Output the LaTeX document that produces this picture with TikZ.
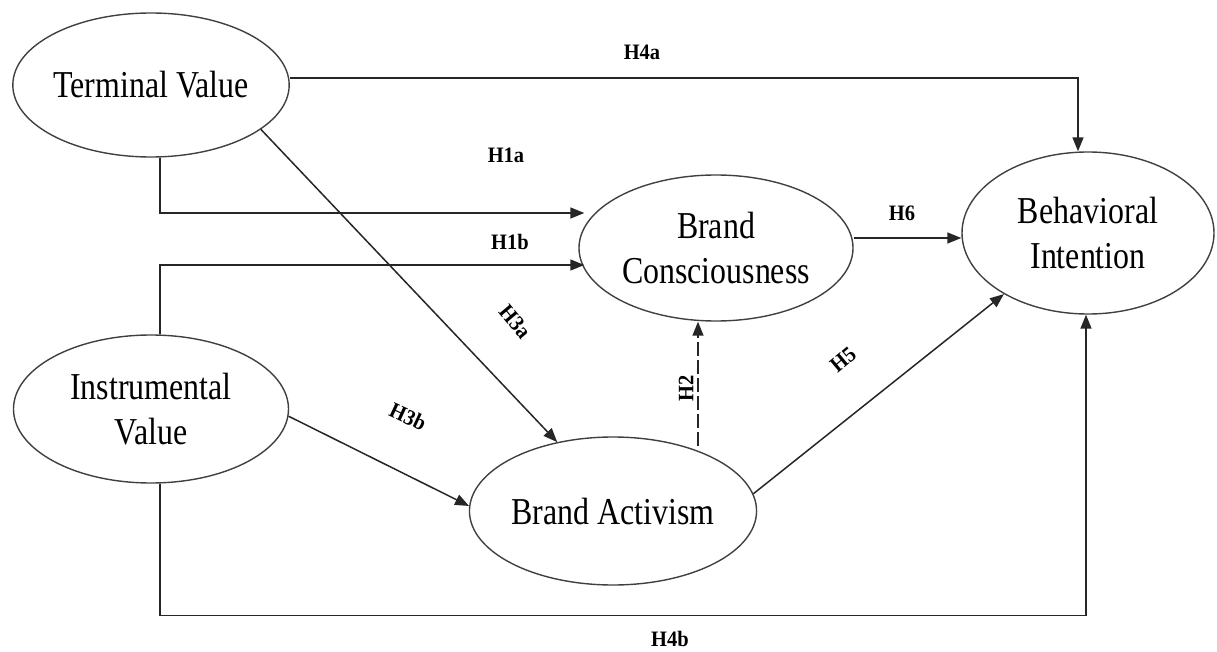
\documentclass[tikz,border=0pt]{standalone}
\usepackage{fontspec}
\setmainfont{Liberation Serif}
\newfontfamily\elfont[FakeStretch=0.84]{Liberation Serif}
\newfontfamily\lblfont[FakeStretch=0.93]{Liberation Serif}
\usetikzlibrary{shapes.geometric,arrows.meta}
\begin{document}
\begin{tikzpicture}[x=1pt,y=-1pt,
  construct/.style={ellipse,draw=black!75,line width=1.4pt,inner sep=0pt,align=center,
    font=\elfont\fontsize{38}{45}\selectfont},
  conn/.style={draw=black!85,line width=1.5pt,-{Triangle[length=14pt,width=11pt]}},
  hyp/.style={font=\lblfont\bfseries\fontsize{22}{24}\selectfont,inner sep=1pt}]
\useasboundingbox (0,0) rectangle (1217,652);

\node[construct,minimum width=275pt,minimum height=144pt] (TV) at (151,85) {Terminal Value};
\node[construct,minimum width=275pt,minimum height=148pt] (IV) at (151,409) {Instrumental\\Value};
\node[construct,minimum width=274pt,minimum height=146pt] (BC) at (716,248) {Brand\\Consciousness};
\node[construct,minimum width=252pt,minimum height=162pt] (BI) at (1088,233) {Behavioral\\Intention};
\node[construct,minimum width=274pt,minimum height=148pt] (BA) at (613,511) {Brand Activism};

% connectors
\draw[conn] ([yshift=7pt]TV.east) -| ([xshift=-10pt]BI.north);
\draw[conn] ([xshift=9pt]TV.south) |- ([xshift=6pt,yshift=35pt]BC.west);
\draw[conn] ([xshift=9pt]IV.north) |- ([xshift=6pt,yshift=-17pt]BC.west);
\draw[conn] (TV.-22) -- (BA.129);
\draw[conn] (IV.-3) -- (BA.178);
\draw[conn,dash pattern=on 14pt off 4pt] ([xshift=85pt,yshift=-10pt]BA.north) -- ([xshift=-18pt]BC.south);
\draw[conn] (BA.7) -- (BI.-144);
\draw[conn] ([yshift=10pt]BC.east) -- ([yshift=-5pt]BI.west);
\draw[conn] ([xshift=9pt]IV.south) -- ++(0,132) -| ([xshift=-2pt]BI.south);

% labels
\node[hyp] (h4a) at (642,52) {H4a};
\node[hyp] (h1a) at (506,155) {H1a};
\node[hyp] (h1b) at (510,242) {H1b};
\node[hyp,rotate=-50] (h3a) at (515,322) {H3a};
\node[hyp,rotate=-25] (h3b) at (408,417) {H3b};
\node[hyp,rotate=90] (h2) at (686,388) {H2};
\node[hyp,rotate=40] (h5) at (843,360) {H5};
\node[hyp] (h6) at (902,213) {H6};
\node[hyp] (h4b) at (670,639) {H4b};
\end{tikzpicture}
\end{document}
